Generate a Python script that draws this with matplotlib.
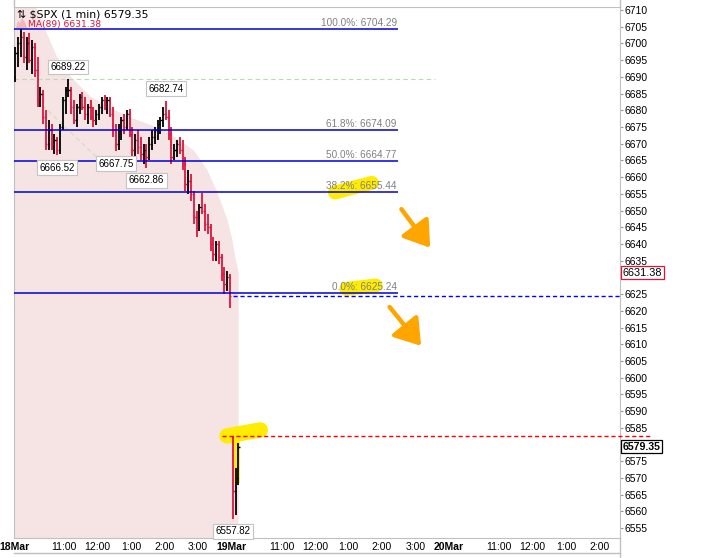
import numpy as np
import matplotlib.pyplot as plt
from matplotlib.lines import Line2D
from matplotlib.patches import Polygon

plt.rcParams['font.family'] = ['Liberation Sans', 'DejaVu Sans']

# 5-min bars: 18Mar 9:30-16:00 (78 bars), then the 19Mar open
opens = [6690, 6697, 6700, 6702, 6696, 6700, 6695, 6699, 6692, 6684,
         6685, 6678, 6670, 6674, 6670, 6671, 6668, 6675, 6683, 6686,
         6686, 6681, 6677, 6681, 6684, 6681, 6679, 6681, 6678, 6677,
         6679, 6681, 6683, 6682, 6683, 6679, 6674, 6670, 6674, 6677,
         6675, 6679, 6673, 6668, 6671, 6669, 6667, 6668, 6666, 6670,
         6672, 6674, 6676, 6677, 6679, 6678, 6673, 6666, 6668, 6670,
         6668, 6664, 6658, 6659, 6655, 6648, 6645, 6651, 6650, 6646,
         6645, 6640, 6637, 6640, 6636, 6631, 6628, 6630,
         6582.6, 6566, 6570]
highs = [6699, 6702, 6704.29, 6703.5, 6702, 6703, 6701, 6700, 6696, 6687,
         6686, 6680, 6677, 6676, 6673, 6672, 6676, 6684, 6687, 6689.22,
         6687, 6683, 6682, 6685, 6685.5, 6684, 6682, 6683, 6681, 6680,
         6682, 6684, 6684.5, 6684, 6684, 6681, 6676, 6676, 6678, 6679,
         6680, 6680.5, 6675, 6673, 6674, 6672, 6670, 6670, 6672, 6674,
         6675, 6677, 6678, 6681, 6682.74, 6680, 6675, 6670, 6671, 6672,
         6671, 6666, 6662, 6661, 6656, 6650, 6652, 6655.4, 6652, 6649,
         6646, 6642, 6641, 6641, 6637, 6633, 6632, 6631,
         6582.6, 6573, 6580.5]
lows = [6688.5, 6693, 6696, 6694, 6692, 6694, 6691, 6690, 6681, 6681,
        6676, 6668, 6668, 6668, 6667, 6666.52, 6667, 6674, 6679, 6684,
        6679, 6676, 6675, 6679, 6680, 6677, 6676, 6677, 6675, 6675.5,
        6677, 6679, 6680, 6679, 6678, 6672, 6667.75, 6668, 6671, 6673,
        6674, 6672, 6666, 6666, 6667, 6665, 6664, 6662.86, 6665, 6668,
        6670, 6671, 6673, 6675, 6677, 6671, 6664, 6665, 6666, 6667,
        6662, 6656, 6655, 6653, 6646, 6642, 6644, 6649, 6644, 6643,
        6638, 6635, 6635, 6634, 6629, 6625, 6626, 6621,
        6557.82, 6559, 6568]
closes = [6697, 6700, 6702, 6696, 6700, 6695, 6699, 6692, 6684, 6685,
          6678, 6670, 6674, 6670, 6671, 6668, 6675, 6683, 6686, 6686,
          6681, 6677, 6681, 6684, 6681, 6679, 6681, 6678, 6677, 6679,
          6681, 6683, 6682, 6683, 6679, 6674, 6670, 6674, 6677, 6675,
          6679, 6673, 6668, 6671, 6669, 6667, 6668, 6666, 6670, 6672,
          6674, 6676, 6677, 6679, 6678, 6673, 6666, 6668, 6670, 6668,
          6664, 6658, 6659, 6655, 6648, 6645, 6651, 6650, 6646, 6645,
          6640, 6637, 6640, 6636, 6631, 6628, 6630, 6624.4,
          6566, 6570, 6579.35]

# MA(89) (minutes since 18Mar open)
ma_t = [0, 38, 54, 77, 102, 138, 180, 221, 270, 304, 322, 347, 365, 383, 392, 397, 403]
ma_v = [6716, 6711.5, 6705, 6696, 6690, 6684, 6680.1, 6677.1, 6674.1, 6670.2,
        6668.1, 6662.1, 6655.3, 6647.2, 6641, 6636, 6631.38]

fib_pct = ['100.0%', '61.8%', '50.0%', '38.2%', '0.0%']
fib_val = [6704.29, 6674.09, 6664.77, 6655.44, 6625.24]

# swing callouts: (bar index, price, above?)
swings = [(19, 6689.22, True), (54, 6682.74, True), (15, 6666.52, False),
          (36, 6667.75, False), (47, 6662.86, False), (78, 6557.82, False)]

last_price = 6579.35
ma_last = 6631.38
day1_close = 6624.4
day2_open = 6582.6
day_names = ['18Mar', '19Mar', '20Mar']
hour_names = ['11:00', '12:00', '1:00', '2:00', '3:00']
hour_min = [90, 150, 210, 270, 330]

W, H = 701, 558
fig = plt.figure(figsize=(W / 100, H / 100), dpi=100)
ax = fig.add_axes([14 / W, 20 / H, 606 / W, 531.5 / H])

crimson = '#dc143c'
blue = '#0000d8'

# MA shading
ax.fill_between(ma_t, 6500, ma_v, color='#f6e3e3', lw=0, zorder=0)

# bars
t = np.arange(len(closes)) * 5 + 2.5
op = np.array(opens); cl = np.array(closes)
cols = np.where(cl >= op, 'black', crimson)
ax.vlines(t, lows, highs, colors=cols, lw=1.3, zorder=3)
ax.hlines(op, t - 2.2, t, colors=cols, lw=1.0, zorder=3)
ax.hlines(cl, t, t + 2.2, colors=cols, lw=1.0, zorder=3)

# fib levels
ax.hlines(fib_val, 0, 688.5, colors=blue, lw=1.1, zorder=4)
for p, v in zip(fib_pct, fib_val):
    ax.annotate(f'{p}: {v:.2f}', xy=(686.7, v), xytext=(0, 1), textcoords='offset points',
                ha='right', va='bottom', fontsize=7.2, color='#808080', zorder=6)

# guide lines
ax.plot([0, 755], [6689.22, 6689.22], color='#b8dcaa', lw=0.8, ls=(0, (4, 3)), zorder=2)
ax.plot([41, 163], [6683.1, 6663.6], color='#cfdcc8', lw=0.8, ls=(0, (4, 3)), zorder=2)
ax.plot([392.7, 1087], [day1_close, day1_close], color='#0000ff', lw=1, ls=(0, (3, 2)), zorder=4)
ax.plot([373, 1144], [day2_open, day2_open], color='#ff0000', lw=1, ls=(0, (3, 2)),
        zorder=4, clip_on=False)

# yellow marker strokes
yel = '#ffec00'
ax.plot([575.6, 642], [6655.4, 6658.3], color=yel, lw=10, solid_capstyle='round', zorder=1.5)
ax.plot([596, 649], [6626.6, 6627.6], color=yel, lw=10, solid_capstyle='round', zorder=1.5)
ax.plot([382, 442], [6582.6, 6584.4], color=yel, lw=11, solid_capstyle='round', zorder=1.5)
ax.plot([400, 400], [6581, 6568.5], color=yel, lw=4, solid_capstyle='butt', zorder=1.5)

# orange arrows
for tail, tip in [((692, 6651.1), (749.5, 6638.2)), ((670.6, 6621.8), (733.4, 6608.9))]:
    ax.annotate('', xy=tip, xytext=tail,
                arrowprops=dict(arrowstyle='-|>,head_length=0.9,head_width=0.6',
                                color='#ffa500', lw=3.2, mutation_scale=17))

# swing callouts
for i, v, up in swings:
    ax.annotate(f'{v:.2f}', xy=(t[i], v), xytext=(0, 9 if up else -9),
                textcoords='offset points', ha='center', va='center', fontsize=7,
                bbox=dict(boxstyle='square,pad=0.25', fc='white', ec='#c4c4c4', lw=0.8),
                zorder=7, annotation_clip=False)

# axes styling
for s in ax.spines.values():
    s.set_color('#c0c0c0')
ax.yaxis.tick_right()
yt = np.arange(6555, 6711, 5)
ax.set_yticks(yt)
ax.set_yticklabels(['' if v in (6580, 6630) else str(v) for v in yt])
ax.tick_params(axis='y', length=2.5, width=0.8, color='#999999', pad=0.5, labelsize=7.5)

xt, xl = [], []
for d, name in enumerate(day_names):
    xt.append(390 * d); xl.append(name)
    for m, h in zip(hour_min, hour_names):
        xt.append(390 * d + m); xl.append(h)
ax.set_xticks(xt)
ax.set_xticklabels(xl)
ax.tick_params(axis='x', length=0, pad=3, labelsize=7.5)
for lab in ax.get_xticklabels():
    if lab.get_text() in day_names:
        lab.set_fontweight('bold')

# limits after ticks so set_xticks does not widen the view
ax.set_xlim(0, 1087)
ax.set_ylim(6552.06, 6711.05)

# price boxes on right axis
ax.annotate(f'{ma_last:.2f}', xy=(1, ma_last), xycoords=('axes fraction', 'data'),
            xytext=(2, 0), textcoords='offset points', ha='left', va='center', fontsize=7.8,
            bbox=dict(boxstyle='square,pad=0.15', fc='white', ec=crimson, lw=0.9),
            zorder=8, annotation_clip=False)
ax.annotate(f'{last_price:.2f}', xy=(1, last_price), xycoords=('axes fraction', 'data'),
            xytext=(2, 0), textcoords='offset points', ha='left', va='center', fontsize=7.6,
            fontweight='bold',
            bbox=dict(boxstyle='square,pad=0.15', fc='white', ec='black', lw=0.9),
            zorder=8, annotation_clip=False)

# title and legend
fig.text(17 / W, 1 - 14.5 / H, '\u21c5 $SPX (1 min) 6579.35', family='DejaVu Sans',
         fontsize=7.8, va='center', ha='left')
fig.add_artist(Polygon([(16 / W, 1 - 28 / H), (18 / W, 1 - 21 / H), (20 / W, 1 - 23 / H),
                        (22 / W, 1 - 18 / H), (25 / W, 1 - 22 / H), (27 / W, 1 - 28 / H)],
                       closed=True, fc='#f0b8b8', ec='none'))
fig.text(28 / W, 1 - 25 / H, 'MA(89) 6631.38', family='DejaVu Sans', fontsize=6.6,
         color=crimson, va='center', ha='left')

# outer frame bits
gray = '#c0c0c0'
fig.add_artist(Line2D([14 / W, 620 / W], [1 - 553 / H] * 2, color=gray, lw=1))
fig.add_artist(Line2D([620 / W, 620 / W], [0, 20 / H], color=gray, lw=1))
fig.add_artist(Line2D([620 / W, 620 / W], [1 - 6.5 / H, 1], color=gray, lw=1))
fig.add_artist(Line2D([14 / W, 14 / W], [1 - 6.5 / H, 1], color=gray, lw=1))

fig.savefig('out.png', dpi=100)
